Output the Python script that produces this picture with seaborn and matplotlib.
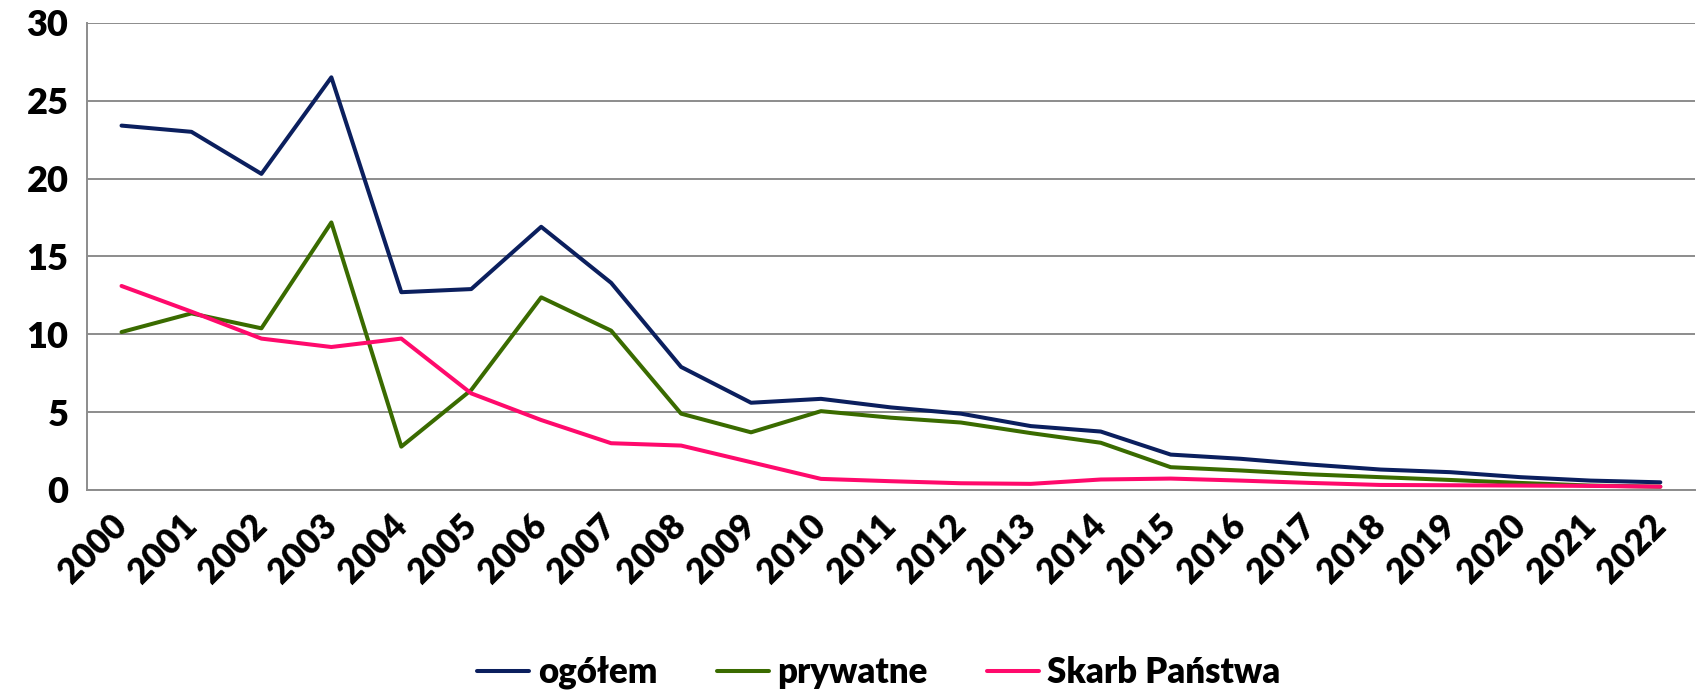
import pandas as pd
import numpy as np
import matplotlib
matplotlib.use("Agg")
import matplotlib.pyplot as plt
import seaborn as sns

#Data
years = [str(y) for y in range(2000, 2023)]
ogolem = [23.4, 23.0, 20.3, 26.5, 12.7, 12.9, 16.9, 13.3, 7.9, 5.6, 5.85, 5.3, 4.9,
          4.1, 3.75, 2.27, 2.0, 1.63, 1.31, 1.14, 0.82, 0.6, 0.49]
prywatne = [10.14, 11.34, 10.38, 17.18, 2.78, 6.42, 12.37, 10.23, 4.9, 3.7, 5.06, 4.64, 4.33,
            3.65, 3.03, 1.46, 1.25, 1.0, 0.82, 0.64, 0.45, 0.28, 0.21]
skarb = [13.1, 11.45, 9.72, 9.18, 9.72, 6.2, 4.49, 3.0, 2.85, 1.78, 0.71, 0.56, 0.43,
         0.39, 0.67, 0.73, 0.6, 0.45, 0.32, 0.3, 0.28, 0.26, 0.21]
series_names = ['ogółem', 'prywatne', 'Skarb Państwa']
colors = ['#0b1f5e', '#3a6b00', '#ff0a6c']

#Long form table for seaborn
df = pd.DataFrame({'rok': years * 3,
                   'x': list(range(len(years))) * 3,
                   'wartosc': ogolem + prywatne + skarb,
                   'seria': [series_names[0]] * len(years) + [series_names[1]] * len(years)
                            + [series_names[2]] * len(years)})

sns.set_style('white')
plt.rcParams['font.family'] = ['Lato', 'DejaVu Sans']
plt.rcParams['font.weight'] = 'heavy'
plt.rcParams['text.color'] = 'black'
plt.rcParams['xtick.color'] = 'black'
plt.rcParams['ytick.color'] = 'black'

fig = plt.figure(figsize=(16.97, 6.92), dpi=100)
ax = fig.add_axes([0.051, 0.292, 0.948, 0.675])

sns.lineplot(data=df, x='x', y='wartosc', hue='seria', palette=colors,
             hue_order=series_names, linewidth=2.9, ax=ax, legend=True)

#Axes styling (Excel look)
ax.set_xlim(-0.5, len(years) - 0.5)
ax.set_ylim(0, 30)
ax.set_yticks(np.arange(0, 31, 5))
ax.yaxis.grid(True, color='#8c8c8c', linewidth=1.4)
ax.set_axisbelow(True)
for s in ['top', 'right']:
    ax.spines[s].set_visible(False)
for s in ['left', 'bottom']:
    ax.spines[s].set_color('#8c8c8c')
    ax.spines[s].set_linewidth(1.4)

ax.set_xticks(range(len(years)))
ax.set_xticklabels(years, rotation=45, ha='right', va='center', rotation_mode='anchor')
ax.set_xticks(np.arange(-0.5, len(years), 1), minor=True)
ax.tick_params(axis='x', which='major', length=0, pad=22, labelsize=25)
ax.tick_params(axis='x', which='minor', length=11, color='#8c8c8c', width=1.2, direction='out')
ax.tick_params(axis='y', length=7, color='#8c8c8c', width=1.2, direction='out', labelsize=26, pad=6)
for lab in ax.get_xticklabels() + ax.get_yticklabels():
    lab.set_fontweight('heavy')
    lab.set_color('black')
ax.set_xlabel('')
ax.set_ylabel('')

handles, labels = ax.get_legend_handles_labels()
ax.legend_.remove()
fig.legend(handles, labels, loc='center', bbox_to_anchor=(0.518, 0.028), ncol=3, frameon=False,
           handlelength=1.5, handletextpad=0.25, columnspacing=1.7,
           prop={'weight': 'heavy', 'size': 25})

fig.savefig('out.png', dpi=100)
